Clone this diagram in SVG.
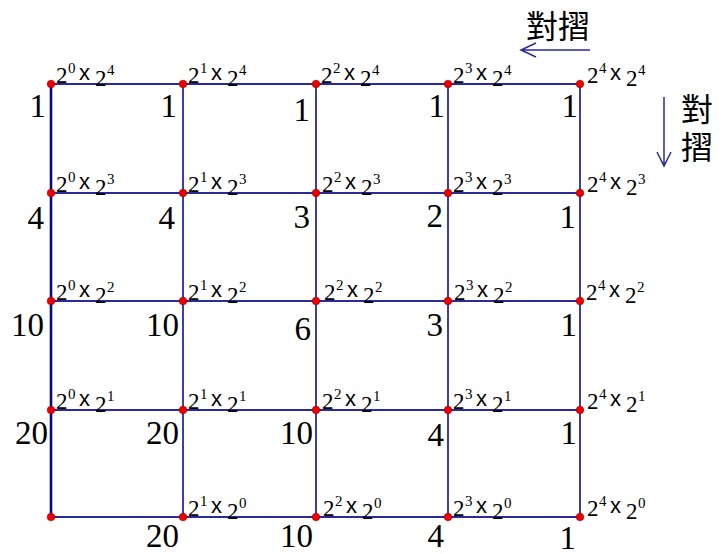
<svg xmlns="http://www.w3.org/2000/svg" width="728" height="554" viewBox="0 0 728 554">
<defs>
<style>
.g{stroke:#2a2a9c;stroke-width:1.8;fill:none}
.gl{stroke:#0a0a80;stroke-width:2.6;fill:none}
.ar{stroke:#2a2a9c;stroke-width:1.5;fill:none}
.d{fill:#ee0000;stroke:#a00000;stroke-width:0.6}
</style>
</defs>
<g id="connectors">
<path class="g" d="M51 84H580M51 193H580M51 301H580M51 410H580M51 517H580"/>
<path class="g" d="M183 84V517M316 84V517M448 84V517M580 84V517"/>
<path class="gl" d="M51 84V517"/>
</g>
<g id="fold-left">
<path class="ar" d="M590 50H521M536 43L521 50L536 57"/>
<text font-family="Noto Sans CJK TC, Noto Sans CJK SC, sans-serif" font-size="32" x="526" y="38">對摺</text>
</g>
<g id="fold-down">
<path class="ar" d="M664 97V166M657 152L664 166L671 152"/>
<text font-family="Noto Sans CJK TC, Noto Sans CJK SC, sans-serif" font-size="32" x="681" y="121">對</text>
<text font-family="Noto Sans CJK TC, Noto Sans CJK SC, sans-serif" font-size="32" x="681" y="159">摺</text>
</g>
<g id="labels" font-family="Liberation Serif, Times New Roman, serif" font-size="23" fill="#000">
<g id="n-0-4"><circle class="d" cx="51" cy="84" r="3.8"/><text><tspan x="56" y="83">2</tspan><tspan font-size="15" x="68" y="73">0</tspan><tspan font-family="Liberation Sans, Arial, sans-serif" font-size="22" x="79" y="80">x</tspan><tspan x="95" y="86">2</tspan><tspan font-size="15" x="107" y="75">4</tspan></text><text font-size="33" text-anchor="end" x="46" y="117">1</text></g>
<g id="n-1-4"><circle class="d" cx="183" cy="84" r="3.8"/><text><tspan x="188" y="83">2</tspan><tspan font-size="15" x="200" y="73">1</tspan><tspan font-family="Liberation Sans, Arial, sans-serif" font-size="22" x="211" y="80">x</tspan><tspan x="227" y="86">2</tspan><tspan font-size="15" x="239" y="75">4</tspan></text><text font-size="33" text-anchor="end" x="177" y="117">1</text></g>
<g id="n-2-4"><circle class="d" cx="316" cy="84" r="3.8"/><text><tspan x="321" y="83">2</tspan><tspan font-size="15" x="333" y="73">2</tspan><tspan font-family="Liberation Sans, Arial, sans-serif" font-size="22" x="344" y="80">x</tspan><tspan x="360" y="86">2</tspan><tspan font-size="15" x="372" y="75">4</tspan></text><text font-size="33" text-anchor="end" x="310" y="121">1</text></g>
<g id="n-3-4"><circle class="d" cx="448" cy="84" r="3.8"/><text><tspan x="453" y="83">2</tspan><tspan font-size="15" x="465" y="73">3</tspan><tspan font-family="Liberation Sans, Arial, sans-serif" font-size="22" x="476" y="80">x</tspan><tspan x="492" y="86">2</tspan><tspan font-size="15" x="504" y="75">4</tspan></text><text font-size="33" text-anchor="end" x="445" y="117">1</text></g>
<g id="n-4-4"><circle class="d" cx="580" cy="84" r="3.8"/><text><tspan x="587" y="83">2</tspan><tspan font-size="15" x="599" y="73">4</tspan><tspan font-family="Liberation Sans, Arial, sans-serif" font-size="22" x="610" y="80">x</tspan><tspan x="626" y="86">2</tspan><tspan font-size="15" x="638" y="75">4</tspan></text><text font-size="33" text-anchor="end" x="578" y="117">1</text></g>
<g id="n-0-3"><circle class="d" cx="51" cy="193" r="3.8"/><text><tspan x="56" y="192">2</tspan><tspan font-size="15" x="68" y="182">0</tspan><tspan font-family="Liberation Sans, Arial, sans-serif" font-size="22" x="79" y="189">x</tspan><tspan x="95" y="195">2</tspan><tspan font-size="15" x="107" y="184">3</tspan></text><text font-size="33" text-anchor="end" x="44" y="229">4</text></g>
<g id="n-1-3"><circle class="d" cx="183" cy="193" r="3.8"/><text><tspan x="188" y="192">2</tspan><tspan font-size="15" x="200" y="182">1</tspan><tspan font-family="Liberation Sans, Arial, sans-serif" font-size="22" x="211" y="189">x</tspan><tspan x="227" y="195">2</tspan><tspan font-size="15" x="239" y="184">3</tspan></text><text font-size="33" text-anchor="end" x="175" y="229">4</text></g>
<g id="n-2-3"><circle class="d" cx="316" cy="193" r="3.8"/><text><tspan x="322" y="192">2</tspan><tspan font-size="15" x="334" y="182">2</tspan><tspan font-family="Liberation Sans, Arial, sans-serif" font-size="22" x="345" y="189">x</tspan><tspan x="361" y="195">2</tspan><tspan font-size="15" x="373" y="184">3</tspan></text><text font-size="33" text-anchor="end" x="310" y="228">3</text></g>
<g id="n-3-3"><circle class="d" cx="448" cy="193" r="3.8"/><text><tspan x="453" y="192">2</tspan><tspan font-size="15" x="465" y="182">3</tspan><tspan font-family="Liberation Sans, Arial, sans-serif" font-size="22" x="476" y="189">x</tspan><tspan x="492" y="195">2</tspan><tspan font-size="15" x="504" y="184">3</tspan></text><text font-size="33" text-anchor="end" x="443" y="227">2</text></g>
<g id="n-4-3"><circle class="d" cx="580" cy="193" r="3.8"/><text><tspan x="587" y="192">2</tspan><tspan font-size="15" x="599" y="182">4</tspan><tspan font-family="Liberation Sans, Arial, sans-serif" font-size="22" x="610" y="189">x</tspan><tspan x="626" y="195">2</tspan><tspan font-size="15" x="638" y="184">3</tspan></text><text font-size="33" text-anchor="end" x="576" y="228">1</text></g>
<g id="n-0-2"><circle class="d" cx="51" cy="301" r="3.8"/><text><tspan x="56" y="300">2</tspan><tspan font-size="15" x="68" y="290">0</tspan><tspan font-family="Liberation Sans, Arial, sans-serif" font-size="22" x="79" y="297">x</tspan><tspan x="95" y="303">2</tspan><tspan font-size="15" x="107" y="292">2</tspan></text><text font-size="33" text-anchor="end" x="44" y="336">10</text></g>
<g id="n-1-2"><circle class="d" cx="183" cy="301" r="3.8"/><text><tspan x="188" y="300">2</tspan><tspan font-size="15" x="200" y="290">1</tspan><tspan font-family="Liberation Sans, Arial, sans-serif" font-size="22" x="211" y="297">x</tspan><tspan x="227" y="303">2</tspan><tspan font-size="15" x="239" y="292">2</tspan></text><text font-size="33" text-anchor="end" x="179" y="336">10</text></g>
<g id="n-2-2"><circle class="d" cx="316" cy="301" r="3.8"/><text><tspan x="324" y="300">2</tspan><tspan font-size="15" x="336" y="290">2</tspan><tspan font-family="Liberation Sans, Arial, sans-serif" font-size="22" x="347" y="297">x</tspan><tspan x="363" y="303">2</tspan><tspan font-size="15" x="375" y="292">2</tspan></text><text font-size="33" text-anchor="end" x="311" y="340">6</text></g>
<g id="n-3-2"><circle class="d" cx="448" cy="301" r="3.8"/><text><tspan x="454" y="300">2</tspan><tspan font-size="15" x="466" y="290">3</tspan><tspan font-family="Liberation Sans, Arial, sans-serif" font-size="22" x="477" y="297">x</tspan><tspan x="493" y="303">2</tspan><tspan font-size="15" x="505" y="292">2</tspan></text><text font-size="33" text-anchor="end" x="443" y="336">3</text></g>
<g id="n-4-2"><circle class="d" cx="580" cy="301" r="3.8"/><text><tspan x="586" y="300">2</tspan><tspan font-size="15" x="598" y="290">4</tspan><tspan font-family="Liberation Sans, Arial, sans-serif" font-size="22" x="609" y="297">x</tspan><tspan x="625" y="303">2</tspan><tspan font-size="15" x="637" y="292">2</tspan></text><text font-size="33" text-anchor="end" x="577" y="336">1</text></g>
<g id="n-0-1"><circle class="d" cx="51" cy="410" r="3.8"/><text><tspan x="56" y="409">2</tspan><tspan font-size="15" x="68" y="399">0</tspan><tspan font-family="Liberation Sans, Arial, sans-serif" font-size="22" x="79" y="406">x</tspan><tspan x="95" y="412">2</tspan><tspan font-size="15" x="107" y="401">1</tspan></text><text font-size="33" text-anchor="end" x="48" y="444">20</text></g>
<g id="n-1-1"><circle class="d" cx="183" cy="410" r="3.8"/><text><tspan x="188" y="409">2</tspan><tspan font-size="15" x="200" y="399">1</tspan><tspan font-family="Liberation Sans, Arial, sans-serif" font-size="22" x="211" y="406">x</tspan><tspan x="227" y="412">2</tspan><tspan font-size="15" x="239" y="401">1</tspan></text><text font-size="33" text-anchor="end" x="179" y="444">20</text></g>
<g id="n-2-1"><circle class="d" cx="316" cy="410" r="3.8"/><text><tspan x="322" y="409">2</tspan><tspan font-size="15" x="334" y="399">2</tspan><tspan font-family="Liberation Sans, Arial, sans-serif" font-size="22" x="345" y="406">x</tspan><tspan x="361" y="412">2</tspan><tspan font-size="15" x="373" y="401">1</tspan></text><text font-size="33" text-anchor="end" x="313" y="444">10</text></g>
<g id="n-3-1"><circle class="d" cx="448" cy="410" r="3.8"/><text><tspan x="453" y="409">2</tspan><tspan font-size="15" x="465" y="399">3</tspan><tspan font-family="Liberation Sans, Arial, sans-serif" font-size="22" x="476" y="406">x</tspan><tspan x="492" y="412">2</tspan><tspan font-size="15" x="504" y="401">1</tspan></text><text font-size="33" text-anchor="end" x="444" y="446">4</text></g>
<g id="n-4-1"><circle class="d" cx="580" cy="410" r="3.8"/><text><tspan x="587" y="409">2</tspan><tspan font-size="15" x="599" y="399">4</tspan><tspan font-family="Liberation Sans, Arial, sans-serif" font-size="22" x="610" y="406">x</tspan><tspan x="626" y="412">2</tspan><tspan font-size="15" x="638" y="401">1</tspan></text><text font-size="33" text-anchor="end" x="577" y="444">1</text></g>
<g id="n-0-0"><circle class="d" cx="51" cy="517" r="3.8"/></g>
<g id="n-1-0"><circle class="d" cx="183" cy="517" r="3.8"/><text><tspan x="188" y="516">2</tspan><tspan font-size="15" x="200" y="506">1</tspan><tspan font-family="Liberation Sans, Arial, sans-serif" font-size="22" x="211" y="513">x</tspan><tspan x="227" y="519">2</tspan><tspan font-size="15" x="239" y="508">0</tspan></text><text font-size="33" text-anchor="end" x="179" y="547">20</text></g>
<g id="n-2-0"><circle class="d" cx="316" cy="517" r="3.8"/><text><tspan x="323" y="516">2</tspan><tspan font-size="15" x="335" y="506">2</tspan><tspan font-family="Liberation Sans, Arial, sans-serif" font-size="22" x="346" y="513">x</tspan><tspan x="362" y="519">2</tspan><tspan font-size="15" x="374" y="508">0</tspan></text><text font-size="33" text-anchor="end" x="313" y="547">10</text></g>
<g id="n-3-0"><circle class="d" cx="448" cy="517" r="3.8"/><text><tspan x="453" y="516">2</tspan><tspan font-size="15" x="465" y="506">3</tspan><tspan font-family="Liberation Sans, Arial, sans-serif" font-size="22" x="476" y="513">x</tspan><tspan x="492" y="519">2</tspan><tspan font-size="15" x="504" y="508">0</tspan></text><text font-size="33" text-anchor="end" x="444" y="547">4</text></g>
<g id="n-4-0"><circle class="d" cx="580" cy="517" r="3.8"/><text><tspan x="587" y="516">2</tspan><tspan font-size="15" x="599" y="506">4</tspan><tspan font-family="Liberation Sans, Arial, sans-serif" font-size="22" x="610" y="513">x</tspan><tspan x="626" y="519">2</tspan><tspan font-size="15" x="638" y="508">0</tspan></text><text font-size="33" text-anchor="end" x="576" y="549">1</text></g>
</g>
</svg>
